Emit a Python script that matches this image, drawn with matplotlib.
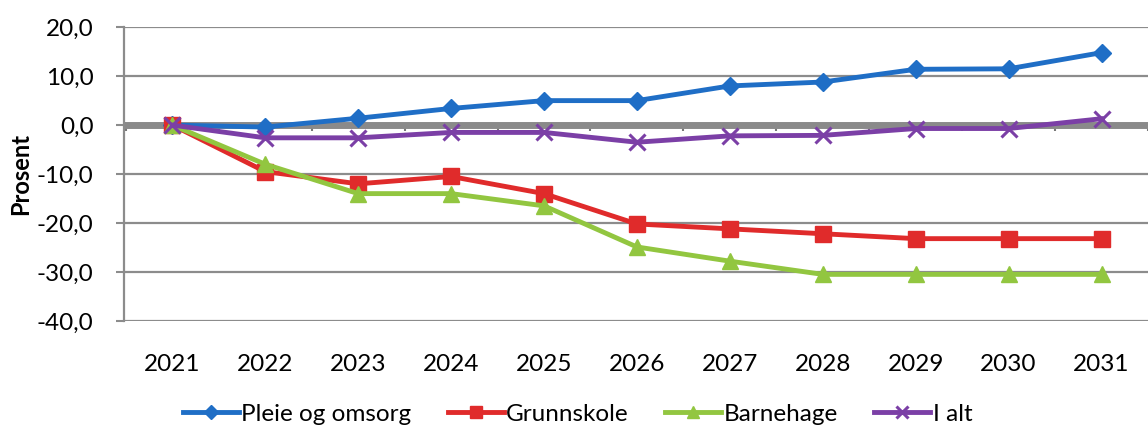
import numpy as np
import matplotlib.pyplot as plt

years = ['2021', '2022', '2023', '2024', '2025', '2026', '2027', '2028', '2029', '2030', '2031']
pleie = [0.0, -0.4, 1.4, 3.4, 5.0, 5.0, 8.0, 8.8, 11.4, 11.5, 14.8]
grunnskole = [0.0, -9.5, -12.0, -10.5, -14.0, -20.2, -21.2, -22.2, -23.2, -23.2, -23.2]
barnehage = [0.0, -8.0, -14.0, -14.0, -16.5, -24.9, -27.8, -30.5, -30.5, -30.5, -30.5]
i_alt = [0.0, -2.6, -2.6, -1.5, -1.5, -3.5, -2.2, -2.1, -0.7, -0.7, 1.3]

plt.rcParams['font.family'] = ['Lato', 'DejaVu Sans']

fig = plt.figure(figsize=(11.48, 4.25), dpi=100)
ax = fig.add_axes([0.108, 0.245, 0.892, 0.691])

x = np.arange(len(years))

# grid + zero axis line (Excel style)
ax.set_ylim(-40, 20)
ax.set_yticks(np.arange(-40, 21, 10))
ax.yaxis.grid(True, color='#8c8c8c', lw=1.6)
ax.set_axisbelow(True)
ax.axhline(0, color='#8a8a8a', lw=5, zorder=1.5)
bounds = np.arange(len(years) + 1) - 0.5
ax.vlines(bounds, -1.2, 0, color='#777777', lw=1.5, zorder=1.4)

ax.plot(x, pleie, color='#1f6ec6', lw=3.5, marker='D', ms=9, label='Pleie og omsorg', zorder=3)
ax.plot(x, grunnskole, color='#e02b2b', lw=3.5, marker='s', ms=11, label='Grunnskole', zorder=3)
ax.plot(x, barnehage, color='#92c640', lw=3.5, marker='^', ms=11, label='Barnehage', zorder=3)
ax.plot(x, i_alt, color='#7b3fa6', lw=3.5, marker='x', ms=11, mew=2.2, label='I alt', zorder=3)

ax.set_xlim(-0.52, 10.5)
ax.set_xticks(x)
ax.set_xticklabels(years)
ax.set_yticklabels([f'{v:.1f}'.replace('.', ',') for v in np.arange(-40, 21, 10)])
ax.tick_params(axis='x', length=0, pad=24, labelsize=17.5)
ax.tick_params(axis='y', length=6, color='#8c8c8c', width=1.5, labelsize=17.5, pad=16)

for s in ['top', 'right', 'bottom']:
    ax.spines[s].set_visible(False)
ax.spines['left'].set_color('#8c8c8c')
ax.spines['left'].set_linewidth(1.6)

ax.set_ylabel('Prosent', fontsize=17, fontweight='bold', labelpad=3)

ax.legend(loc='center left', bbox_to_anchor=(183 / 1148, 1 - 414 / 425),
          bbox_transform=fig.transFigure, ncol=4, frameon=False, borderpad=0,
          borderaxespad=0, fontsize=17.5, handlelength=2.3, columnspacing=1.5,
          handletextpad=0.1, markerscale=0.8)

fig.savefig('out.png', dpi=100)
